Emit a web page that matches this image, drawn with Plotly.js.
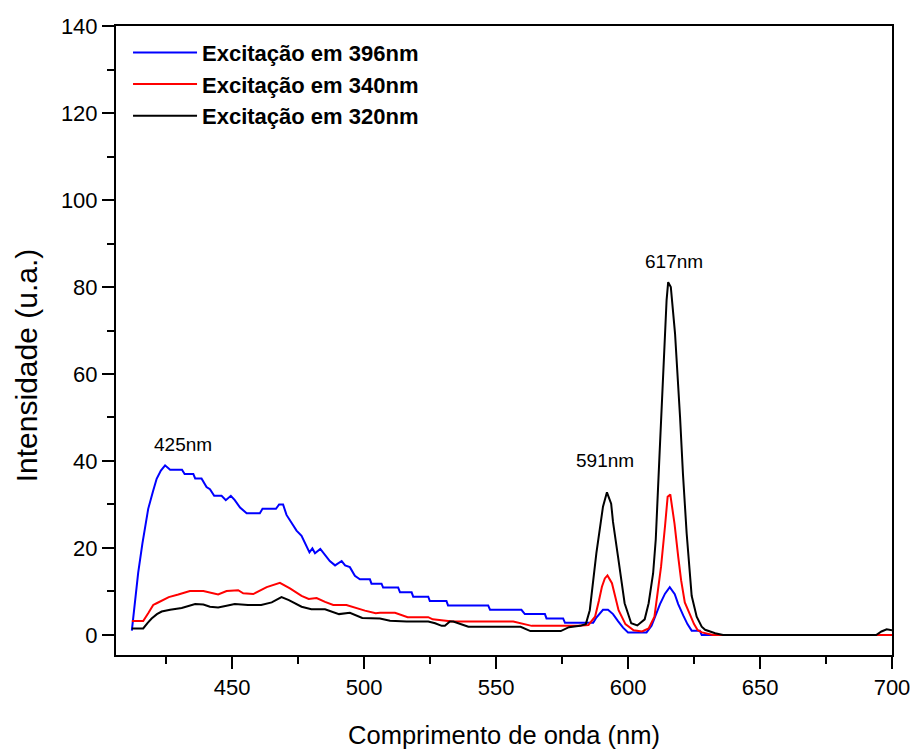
<!DOCTYPE html>
<html>
<head>
<meta charset="utf-8">
<script src="https://cdn.plot.ly/plotly-3.0.1.min.js"></script>
<style>html,body{margin:0;padding:0;background:#fff;}#chart{width:913px;height:749px;}</style>
</head>
<body>
<div id="chart"></div>
<script>
// Excitação em 396nm (blue)
const x396 = [412, 413.2, 414.4, 416, 418.2, 420, 421.4, 423, 424.6, 426.5, 431, 432, 435.3, 436, 438.4, 440.3, 441.6, 443.2, 446, 447.6, 449.5, 451, 453, 455.5, 460.5, 461.5, 466.6, 467.8, 469.3, 470.6, 474.4, 476.3, 479.3, 480.4, 481.4, 483.4, 485.6, 487, 489, 491.5, 492.8, 494.6, 496.5, 498.4, 502.2, 502.8, 506.6, 507.2, 512.9, 513.6, 518, 518.6, 524.3, 524.9, 531.2, 531.8, 547, 547.7, 559.6, 560.9, 568.5, 569.1, 575.4, 576.1, 583, 586.8, 588, 590.5, 592.4, 594.3, 596.2, 598.1, 600, 607, 608.9, 612.1, 614, 615.8, 617.7, 619, 620.9, 622.5, 624.1, 627.2, 627.9, 700];
const y396 = [1, 8, 14.3, 21, 29, 33, 35.9, 37.8, 39, 38, 38, 37, 37, 36, 36, 34, 33.5, 32, 32, 31, 32, 31, 29.3, 28, 28, 29, 29, 30, 30, 27.6, 24, 22.8, 19, 19.9, 18.8, 19.8, 18, 17, 16, 17, 16, 15.6, 13.6, 12.8, 12.8, 11.8, 11.8, 10.9, 10.9, 9.8, 9.8, 8.8, 8.8, 7.8, 7.8, 6.8, 6.8, 5.8, 5.8, 4.8, 4.8, 3.8, 3.8, 2.8, 2.8, 2.8, 4, 5.8, 5.8, 4.8, 3.2, 1.7, 0.6, 0.6, 2.1, 7.1, 9.5, 11, 9.4, 7.1, 4.5, 2.5, 1, 1, 0, 0];

// Excitação em 340nm (red)
const x340 = [412, 416.3, 418.2, 420.1, 421.4, 423.5, 426, 429.6, 434, 439.1, 442.2, 444.7, 447.9, 450.5, 452.3, 454.2, 458, 463.1, 468.1, 471.9, 476.3, 479, 482, 485.2, 488.3, 493.3, 496.5, 500.3, 504.4, 506, 511.7, 516.5, 524.3, 526, 533.5, 556.5, 563.5, 578, 581.2, 585, 587.5, 589, 590.1, 591.2, 592.2, 593.9, 595, 596.4, 599, 602.1, 605.3, 607.8, 610, 612.5, 614, 615, 616, 617.6, 619, 620.1, 621.5, 623.3, 625, 626.4, 628, 632.2, 700];
const y340 = [3.2, 3.2, 5, 6.9, 7.3, 8, 8.7, 9.3, 10.1, 10.1, 9.6, 9.3, 10.1, 10.2, 10.3, 9.6, 9.4, 11, 12, 10.7, 9, 8.3, 8.5, 7.6, 6.9, 6.9, 6.3, 5.6, 5, 5.1, 5.1, 4.1, 4.1, 3.6, 3.1, 3.1, 2.1, 2.1, 2.1, 2.3, 4.2, 8, 11.1, 13, 13.7, 11.9, 9, 5.7, 2.5, 1.1, 0.8, 1.5, 4.2, 15.7, 25, 31.8, 32.3, 25.6, 18, 12.6, 7.5, 5, 2.5, 1.1, 0.6, 0, 0];

// Excitação em 320nm (black)
const x320 = [412, 416.3, 418, 419.5, 421.5, 423.3, 426.5, 430.9, 436, 439.1, 441.6, 444.7, 447.9, 451, 456, 461, 465, 468.7, 471.5, 476.3, 480, 485.2, 490.5, 494.6, 499.3, 506, 509.8, 516.1, 524.3, 526.9, 529.4, 530.6, 532.5, 533.8, 537.6, 539.5, 559.3, 563, 574.5, 577.6, 581.8, 584, 585.5, 588, 590.5, 592, 593.6, 594.3, 596.2, 598.7, 601.2, 603.5, 606.3, 607.8, 609.5, 610.5, 612, 613, 613.9, 614.6, 615.2, 616.2, 617.8, 618.7, 619.7, 620.8, 622.2, 624.1, 626, 627.9, 629.2, 633, 636, 694, 696, 698, 700];
const y320 = [1.5, 1.5, 2.8, 3.8, 4.8, 5.4, 5.8, 6.2, 7.1, 7, 6.5, 6.3, 6.7, 7.1, 6.9, 6.9, 7.5, 8.7, 8, 6.5, 5.9, 5.9, 4.8, 5.1, 3.9, 3.8, 3.3, 3.1, 3.1, 2.7, 2.1, 2.1, 3.1, 3.1, 2.3, 1.9, 1.9, 0.9, 0.9, 1.8, 2.1, 2.5, 5.7, 18.8, 29.5, 32.8, 30.2, 26, 18, 7.3, 2.7, 2.2, 3.6, 7.3, 14.2, 22, 42.5, 56, 69.3, 77, 81.1, 80, 69.3, 61, 50.1, 37, 23.4, 9, 4.2, 1.9, 1.2, 0.4, 0, 0, 0.8, 1.3, 1.1];

const seriesNames = ["Excitação em 396nm", "Excitação em 340nm", "Excitação em 320nm"];
const peakLabels = ["425nm", "591nm", "617nm"];
const peakX = [431.4, 591.2, 617.4];
const peakY = [43.9, 40.0, 85.9];

const sans = "'Liberation Sans', Arial, sans-serif";

const traces = [
  {x: x396, y: y396, name: '<b>' + seriesNames[0] + '</b>', mode: 'lines', line: {color: '#0000ff', width: 2}},
  {x: x340, y: y340, name: '<b>' + seriesNames[1] + '</b>', mode: 'lines', line: {color: '#ff0000', width: 2}},
  {x: x320, y: y320, name: '<b>' + seriesNames[2] + '</b>', mode: 'lines', line: {color: '#000000', width: 2}}
];

const layout = {
  width: 913, height: 749,
  margin: {l: 116, r: 21, t: 26, b: 94, pad: 0},
  paper_bgcolor: '#ffffff', plot_bgcolor: '#ffffff',
  showlegend: true,
  legend: {x: 0.0155, y: 0.991, xanchor: 'left', yanchor: 'top', bgcolor: 'rgba(0,0,0,0)',
           font: {family: sans, size: 22, color: '#000'}, itemwidth: 64, tracegroupgap: 0},
  xaxis: {
    range: [406, 700], dtick: 50, tick0: 400, showgrid: false, zeroline: false,
    showline: true, linecolor: '#000', linewidth: 2, mirror: true,
    ticks: 'outside', ticklen: 12, tickwidth: 2, tickcolor: '#000',
    minor: {dtick: 25, tick0: 400, ticks: 'outside', ticklen: 7, tickwidth: 2, tickcolor: '#000', showgrid: false},
    tickfont: {family: sans, size: 22, color: '#000'},
    title: {text: 'Comprimento de onda (nm)', font: {family: sans, size: 25.5, color: '#000'}, standoff: 27}
  },
  yaxis: {
    range: [-4.6, 140], dtick: 20, tick0: 0, showgrid: false, zeroline: false,
    showline: true, linecolor: '#000', linewidth: 2, mirror: true,
    ticks: 'outside', ticklen: 12, tickwidth: 2, tickcolor: '#000',
    minor: {dtick: 10, tick0: 0, ticks: 'outside', ticklen: 7, tickwidth: 2, tickcolor: '#000', showgrid: false},
    tickfont: {family: sans, size: 22, color: '#000'},
    title: {text: 'Intensidade (u.a.)\u00a0\u00a0\u00a0\u00a0\u00a0\u00a0\u200b', font: {family: sans, size: 30, color: '#000'}, standoff: 14}
  },
  annotations: peakLabels.map((t, i) => ({
    x: peakX[i], y: peakY[i], xref: 'x', yref: 'y', text: t, showarrow: false,
    font: {family: sans, size: 19, color: '#000'}
  }))
};

Plotly.newPlot('chart', traces, layout, {displayModeBar: false, staticPlot: true});
</script>
</body>
</html>
